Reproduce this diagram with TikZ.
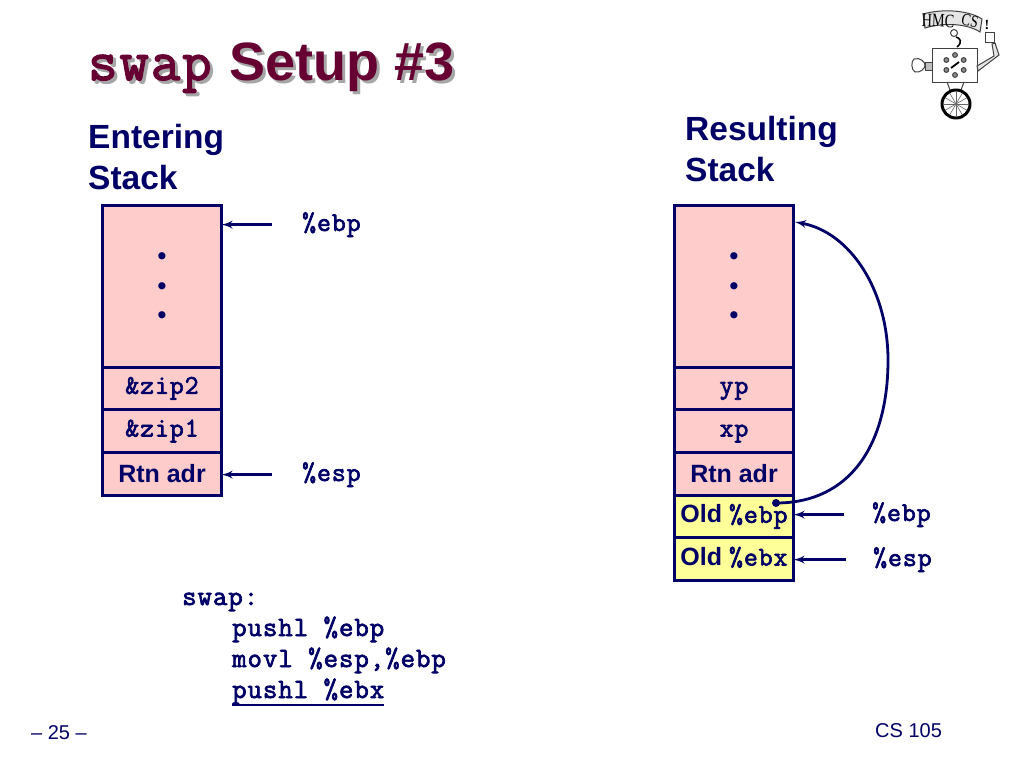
\documentclass[tikz,border=0pt]{standalone}
\usepackage{fontspec}
\setmainfont{Liberation Sans}
\setmonofont{Latin Modern Mono}[LetterSpace=3.5,FakeBold=2.5]
\newfontfamily\logofont{Liberation Serif}
\usetikzlibrary{calc, arrows, positioning}
\definecolor{navyblue}{HTML}{000066}
\definecolor{titlered}{HTML}{660033}
\definecolor{titlegray}{HTML}{A6A6A6}
\definecolor{stackpink}{HTML}{FFCCCC}
\definecolor{stackyellow}{HTML}{FFFF99}
\newcommand{\mono}[1]{{\ttfamily\fontsize{27}{28}\selectfont\vphantom{Ap}#1}}
\newcommand{\titletext}{{\ttfamily\fontsize{57}{60}\selectfont swap}\hspace{3pt} Setup \#3}

\begin{document}
\begin{tikzpicture}[x=1pt,y=-1pt,>=latex',
  cell/.style={draw=navyblue,line width=3pt,fill=stackpink,text=navyblue,minimum width=119pt,inner sep=0pt,outer sep=0pt,font=\fontsize{25}{29.5}\selectfont\bfseries,align=center},
  slot/.style={cell,minimum height=42.7pt},
  newslot/.style={slot,fill=stackyellow},
  dots/.style={inner sep=0pt,text=navyblue,align=center,font=\fontsize{25}{29.5}\selectfont\bfseries},
  heading/.style={anchor=north west,inner sep=0pt,text=navyblue,align=left,font=\fontsize{33.5}{41.5}\selectfont\bfseries},
  reg/.style={anchor=base west,inner sep=0pt,text=navyblue,font=\ttfamily\bfseries\fontsize{27}{28}\selectfont},
  code/.style={anchor=base west,inner sep=0pt,text=navyblue,font=\ttfamily\bfseries\fontsize{28}{28}\selectfont},
  foot/.style={anchor=base west,inner sep=0pt,text=navyblue,font=\fontsize{20}{24}\selectfont},
  ptr/.style={->,draw=navyblue,line width=2.8pt},
  logo/.style={black!75,line width=1pt}]
\useasboundingbox (0,0) rectangle (1024,768);

% title
\node [anchor=base west,inner sep=0pt,text=titlegray,font=\fontsize{54}{60}\selectfont\bfseries] (titleshadow) at (91,83) {\titletext};
\node [anchor=base west,inner sep=0pt,text=titlered,font=\fontsize{54}{60}\selectfont\bfseries] (title) at (88,80) {\titletext};

% entering stack
\node [heading] (enterhead) at (88,124) {Entering\\Stack};
\node [cell,anchor=north,minimum height=162pt] (A1) at (162,205) {};
\node [dots] (dotsA) at ([yshift=-2.5pt]A1.center) {•\\•\\•};
\node [slot,below=0pt of A1] (A2) {\mono{\&zip2}};
\node [slot,below=0pt of A2] (A3) {\mono{\&zip1}};
\node [slot,below=0pt of A3] (A4) {Rtn adr};
\node [reg] (ebpA) at (302,231) {\%ebp};
\node [reg] (espA) at (302,481) {\%esp};
\draw [ptr,shorten <=30pt] (ebpA.west) -- (ebpA.west -| A1.east);
\draw [ptr,shorten <=30pt] (espA.west) -- (espA.west -| A4.east);

% resulting stack
\node [heading] (resulthead) at (685,116) {Resulting\\Stack};
\node [cell,anchor=north,minimum height=162pt] (B1) at (734,205) {};
\node [dots] (dotsB) at ([yshift=-2.5pt]B1.center) {•\\•\\•};
\node [slot,below=0pt of B1] (B2) {\mono{yp}};
\node [slot,below=0pt of B2] (B3) {\mono{xp}};
\node [slot,below=0pt of B3] (B4) {Rtn adr};
\node [newslot,below=0pt of B4] (B5) {Old \mono{\%ebp}};
\node [newslot,below=0pt of B5] (B6) {Old \mono{\%ebx}};
\node [reg] (ebpB) at (872,521) {\%ebp};
\node [reg] (espB) at (873,566) {\%esp};
\draw [ptr,shorten <=28pt] (ebpB.west) -- (ebpB.west -| B5.east);
\draw [ptr,shorten <=27pt] (espB.west) -- (espB.west -| B6.east);

% saved frame pointer
\node [circle,fill=navyblue,inner sep=0pt,minimum size=8pt] (savedebp) at (776,503) {};
\coordinate (oldframe) at (795,222);
\draw [ptr] (savedebp.center) .. controls (850,503) and (888,445) .. (888,360) .. controls (888,290) and (850,232) .. (oldframe);

% code
\node [code] (C1) at (182,605) {swap:};
\node [code] (C2) at (232,636) {pushl \%ebp};
\node [code] (C3) at (232,667) {movl \%esp,\%ebp};
\node [code] (C4) at (232,698) {pushl \%ebx};
\draw [navyblue,line width=2pt] ([yshift=-7pt]C4.base west) -- ([yshift=-7pt]C4.base east);

% footer
\node [foot] (page) at (31,739) {– 25 –};
\node [foot] (course) at (875,737) {CS 105};

% logo
\draw [logo,fill=black!10] (923,14) .. controls (945,8) and (970,11) .. (982,19) -- (980,32) .. controls (968,24) and (945,22) .. (925,28) -- cycle;
\node [inner sep=0pt,rotate=-2,xscale=.75,font=\logofont\fontsize{19}{20}\selectfont] (hmc) at (938,21) {HMC};
\node [inner sep=0pt,rotate=-12,xscale=.8,font=\logofont\fontsize{17}{18}\selectfont] (cs) at (970,21) {CS};
\node [inner sep=0pt,font=\logofont\fontsize{14}{15}\selectfont\bfseries] (bang) at (987,25) {!};
\draw [black,line width=1.6pt] (957,47) .. controls (963,42) and (960,38) .. (956,37);
\draw [logo] (954,33) circle (3.5);
\draw [logo,fill=white] (932,49) rectangle (977,82);
\foreach \a in {30,90,150,210,270,330}
  \draw [logo,fill=black!45] ($(955,65)+(\a:10)$) circle (2.4);
\draw [black,line width=1.8pt] (951,68) -- (959,62);
\draw [logo,fill=black!25] (925,62) rectangle (932,70);
\draw [logo,fill=white] (914,59) .. controls (920,57) and (925,62) .. (925,65) .. controls (925,69) and (920,73) .. (915,72) .. controls (911,70) and (911,61) .. (914,59) -- cycle;
\draw [logo,fill=black!10] (977,66) -- (994,56) -- (992,44) -- (995,43) -- (999,55) -- (978,71) -- cycle;
\draw [logo,fill=white] (985,33) rectangle (994,43);
\draw [logo] (947,82) -- (950,90) (964,82) -- (961,90);
\draw [black,line width=3pt,fill=white] (956,104) circle (14);
\foreach \a in {0,30,...,150}
  \draw [black!60,line width=.6pt] ($(956,104)+(\a:13)$) -- ($(956,104)+(\a+180:13)$);
\end{tikzpicture}
\end{document}
